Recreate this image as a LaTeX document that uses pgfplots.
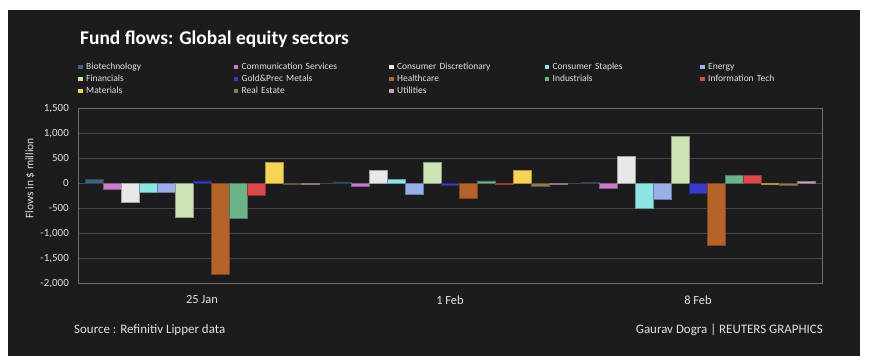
\documentclass[border=0pt]{standalone}
\usepackage{fontspec}
\setmainfont{Carlito}
\usepackage{pgfplots}
\usepackage{pgfplotstable}
\pgfplotsset{compat=1.18}
\definecolor{panel}{HTML}{1C1C1E}
\definecolor{gridc}{HTML}{464646}
\definecolor{framec}{HTML}{6E6E6E}
\definecolor{txt}{HTML}{E0E0E0}
\definecolor{cBio}{HTML}{41647A}
\definecolor{cComm}{HTML}{C77DC8}
\definecolor{cCdisc}{HTML}{E8E8E8}
\definecolor{cCstap}{HTML}{8FE5E3}
\definecolor{cEnergy}{HTML}{9BB0E8}
\definecolor{cFin}{HTML}{CBE3B5}
\definecolor{cGold}{HTML}{3A3AC8}
\definecolor{cHealth}{HTML}{B5632A}
\definecolor{cInd}{HTML}{6DB38A}
\definecolor{cIT}{HTML}{D9484A}
\definecolor{cMat}{HTML}{F8D455}
\definecolor{cRE}{HTML}{8E7A50}
\definecolor{cUtil}{HTML}{BFA6BB}
\pgfplotstableread{
x bio comm cdisc cstap energy fin gold health ind it mat re util
0 75 -110 -370 -185 -185 -685 50 -1820 -700 -235 420 -15 -10
1 30 -65 255 85 -210 420 -40 -300 50 -15 260 -60 -20
2 20 -95 535 -500 -320 945 -190 -1235 160 160 -10 -40 40
}\flows
\begin{document}
\begin{tikzpicture}
\useasboundingbox (0,0) rectangle (878bp,364bp);
\fill[white] (0,0) rectangle (878bp,364bp);
\fill[panel] (8bp,8bp) rectangle (860bp,354bp);
\node[anchor=base west, inner sep=0pt, text=white, font=\fontsize{19.5}{22}\selectfont\bfseries] at (80bp,319bp) {Fund flows: Global equity sectors};
\node[anchor=base west, inner sep=0pt, text=txt, font=\fontsize{13}{16}\selectfont] at (74bp,31bp) {Source : Refinitiv Lipper data};
\node[anchor=base east, inner sep=0pt, text=txt, font=\fontsize{13}{16}\selectfont] at (823bp,31bp) {Gaurav Dogra | REUTERS GRAPHICS};
\begin{axis}[
  scale only axis,
  width=744bp, height=175bp,
  at={(78bp,80.7bp)}, anchor=south west,
  xmin=-0.5, xmax=2.5,
  ymin=-2000, ymax=1500,
  ytick={-2000,-1500,...,1500},
  xtick={0,1,2},
  xticklabels={25 Jan,1 Feb,8 Feb},
  major tick length=0pt,
  ybar=0pt, bar width=18bp,
  ymajorgrids,
  grid style={draw=gridc, line width=1bp},
  axis line style={draw=framec, line width=1bp},
  /pgf/number format/.cd, 1000 sep={,}, assume math mode=true,
  /pgfplots/.cd,
  every y tick label/.append style={inner sep=0pt, anchor=east, xshift=-9bp, text=txt, font=\fontsize{11}{13}\selectfont},
  every x tick label/.append style={inner sep=0pt, anchor=center, yshift=-16.7bp, text=txt, font=\fontsize{12.5}{14}\selectfont},
  ylabel={Flows in \$ million},
  every axis y label/.style={at={(axis description cs:0,0.60)}, xshift=-48bp, rotate=90, anchor=center, text=txt, font=\fontsize{11.5}{13}\selectfont},
  legend columns=5,
  legend cell align=left,
  legend image code/.code={\fill[#1, draw=none] (0bp,-2.3bp) rectangle (4.5bp,2.3bp);},
  legend style={draw=none, fill=none, inner sep=0pt, at={(0bp,222.3bp)}, anchor=north west,
    font=\fontsize{9.5}{11}\selectfont, text=txt,
    nodes={anchor=west, inner xsep=0pt, inner ysep=0pt, minimum height=12bp, text width=147.5bp, align=left},
    /tikz/column sep=0pt, /tikz/row sep=0pt,
    /tikz/every odd column/.append style={column sep=3.5bp}},
  every axis plot/.append style={line width=0.5bp},
]
\addplot[fill=cBio, draw=cBio!70!black] table[x=x,y=bio]{\flows};
\addlegendentry{Biotechnology}
\addplot[fill=cComm, draw=cComm!70!black] table[x=x,y=comm]{\flows};
\addlegendentry{Communication Services}
\addplot[fill=cCdisc, draw=cCdisc!70!black] table[x=x,y=cdisc]{\flows};
\addlegendentry{Consumer Discretionary}
\addplot[fill=cCstap, draw=cCstap!70!black] table[x=x,y=cstap]{\flows};
\addlegendentry{Consumer Staples}
\addplot[fill=cEnergy, draw=cEnergy!70!black] table[x=x,y=energy]{\flows};
\addlegendentry{Energy}
\addplot[fill=cFin, draw=cFin!70!black] table[x=x,y=fin]{\flows};
\addlegendentry{Financials}
\addplot[fill=cGold, draw=cGold!70!black] table[x=x,y=gold]{\flows};
\addlegendentry{Gold\&Prec Metals}
\addplot[fill=cHealth, draw=cHealth!70!black] table[x=x,y=health]{\flows};
\addlegendentry{Healthcare}
\addplot[fill=cInd, draw=cInd!70!black] table[x=x,y=ind]{\flows};
\addlegendentry{Industrials}
\addplot[fill=cIT, draw=cIT!70!black] table[x=x,y=it]{\flows};
\addlegendentry{Information Tech}
\addplot[fill=cMat, draw=cMat!70!black] table[x=x,y=mat]{\flows};
\addlegendentry{Materials}
\addplot[fill=cRE, draw=cRE!70!black] table[x=x,y=re]{\flows};
\addlegendentry{Real Estate}
\addplot[fill=cUtil, draw=cUtil!70!black] table[x=x,y=util]{\flows};
\addlegendentry{Utilities}
\end{axis}
\end{tikzpicture}
\end{document}
